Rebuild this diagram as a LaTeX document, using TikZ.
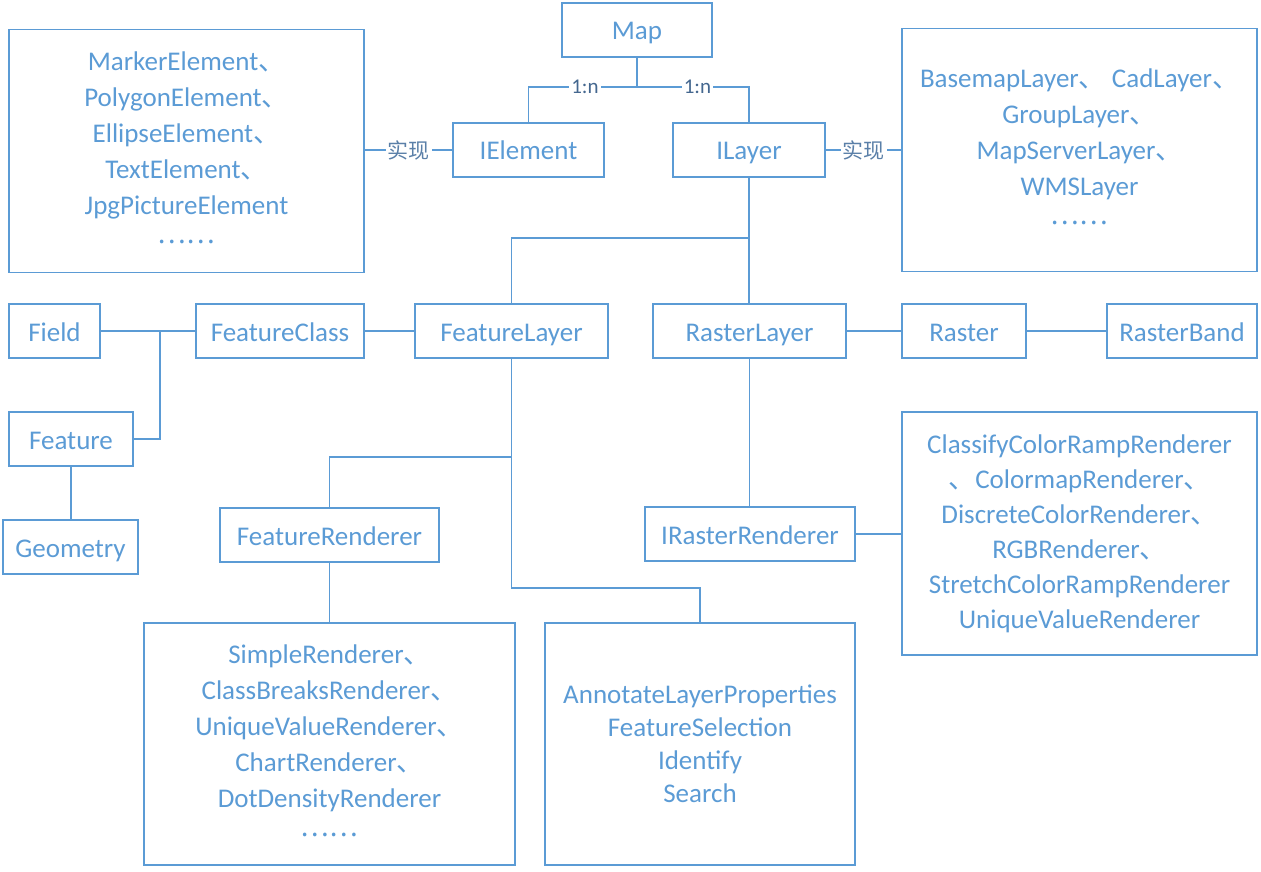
\documentclass[tikz,border=0pt]{standalone}
\usepackage{fontspec}
\setmainfont{Carlito}
\newfontfamily\cjk{Noto Sans CJK SC}
\usetikzlibrary{positioning}
\definecolor{lineblue}{HTML}{5B9BD5}
\definecolor{textblue}{HTML}{5B9BD5}
\definecolor{ratioblue}{HTML}{44678F}
\definecolor{implgray}{HTML}{5A7FA8}
\newcommand{\dun}{{\cjk 、}}
\newcommand{\more}{\raisebox{3.5pt}{\cjk ……}}
\tikzset{
  boxbase/.style={draw=lineblue,line width=0.65pt,text=textblue,align=center,
    font=\fontsize{13.5}{18}\selectfont,inner sep=0pt},
  cls/.style={boxbase,minimum height=27pt,text height=12.5pt,text depth=2.5pt},
  listbox/.style={boxbase,minimum height=121.5pt,minimum width=177.5pt},
  link/.style={draw=lineblue,line width=0.65pt},
  ratio/.style={fill=white,text=ratioblue,font=\fontsize{10.5}{12}\selectfont,inner sep=1pt},
  impl/.style={fill=white,text=implgray,font=\cjk\fontsize{10.5}{12}\selectfont,inner sep=1pt}
}
\begin{document}
\begin{tikzpicture}[x=0.5pt,y=-0.5pt]
  \useasboundingbox (0,0) rectangle (1261,871);

  % top level
  \node[cls,minimum width=75pt] (map) at (637,30) {Map};
  \node[cls,minimum width=75.5pt] (ielem) at (528.5,150) {IElement};
  \node[cls,minimum width=76pt] (ilayer) at (749,150) {ILayer};
  \node[listbox] (elems) at (186.5,151)
    {MarkerElement\dun\\PolygonElement\dun\\EllipseElement\dun\\TextElement\dun\\JpgPictureElement\\\more};
  \node[listbox] (layers) at (1079.5,150)
    {BasemapLayer\dun\ CadLayer\dun\\GroupLayer\dun\\MapServerLayer\dun\\WMSLayer\\\more};

  \coordinate (mapj) at (637,87);
  \draw[link] (map.south) -- (mapj);
  \draw[link] (mapj) -- node[ratio,pos=0.48]{1:n} (mapj -| ielem.north) -- (ielem.north);
  \draw[link] (mapj) -- node[ratio,pos=0.54]{1:n} (mapj -| ilayer.north) -- (ilayer.north);
  \draw[link] (elems.east |- ielem) -- node[impl]{实现} (ielem.west);
  \draw[link] (ilayer.east) -- node[impl]{实现} (ilayer.east -| layers.west);

  % layers row
  \node[cls,minimum width=45.5pt] (field) at (54.5,331) {Field};
  \node[cls,minimum width=84pt] (fclass) at (280,331) {FeatureClass};
  \node[cls,minimum width=96.5pt] (flayer) at (511.5,331) {FeatureLayer};
  \node[cls,minimum width=96.5pt] (rlayer) at (749.5,331) {RasterLayer};
  \node[cls,minimum width=62pt] (raster) at (964,331) {Raster};
  \node[cls,minimum width=75pt] (rband) at (1182,331) {RasterBand};
  \node[cls,minimum width=62pt] (feature) at (71,439) {Feature};
  \node[cls,minimum width=67.5pt] (geometry) at (70.5,547) {Geometry};

  \coordinate (lj) at (749,238);
  \coordinate (fj) at (160,331);
  \draw[link] (ilayer.south) -- (ilayer.south |- rlayer.north);
  \draw[link] (lj) -| (flayer.north);
  \draw[link] (field) -- (fclass);
  \draw[link] (feature.east) -| (fj);
  \draw[link] (feature.south) -- (feature.south |- geometry.north);
  \draw[link] (fclass) -- (flayer);
  \draw[link] (rlayer) -- (raster);
  \draw[link] (raster) -- (rband);

  % renderers
  \node[cls,minimum width=109.5pt] (frender) at (329.5,535) {FeatureRenderer};
  \node[cls,minimum width=105pt] (irender) at (750,534) {IRasterRenderer};
  \node[listbox,font=\fontsize{13.5}{17.5}\selectfont] (rrenders) at (1079.5,533.5)
    {ClassifyColorRampRenderer\\\dun ColormapRenderer\dun\\DiscreteColorRenderer\dun\\RGBRenderer\dun\\StretchColorRampRenderer\\UniqueValueRenderer};
  \node[listbox,minimum width=185.5pt,minimum height=121pt] (simple) at (329.5,744)
    {SimpleRenderer\dun\\ClassBreaksRenderer\dun\\UniqueValueRenderer\dun\\ChartRenderer\dun\\DotDensityRenderer\\\more};
  \node[listbox,minimum width=155pt,minimum height=121pt,font=\fontsize{13.5}{16.5}\selectfont] (annot) at (700,744)
    {AnnotateLayerProperties\\FeatureSelection\\Identify\\Search};

  \coordinate (rj) at (511.5,457);
  \coordinate (aj) at (700,588);
  \draw[link] (flayer.south) |- (aj) -- (annot.north);
  \draw[link] (rj) -| (frender.north);
  \draw[link] (frender) -- (simple);
  \draw[link] (rlayer.south) -- (rlayer.south |- irender.north);
  \draw[link] (irender.east) -- (irender.east -| rrenders.west);
\end{tikzpicture}
\end{document}
